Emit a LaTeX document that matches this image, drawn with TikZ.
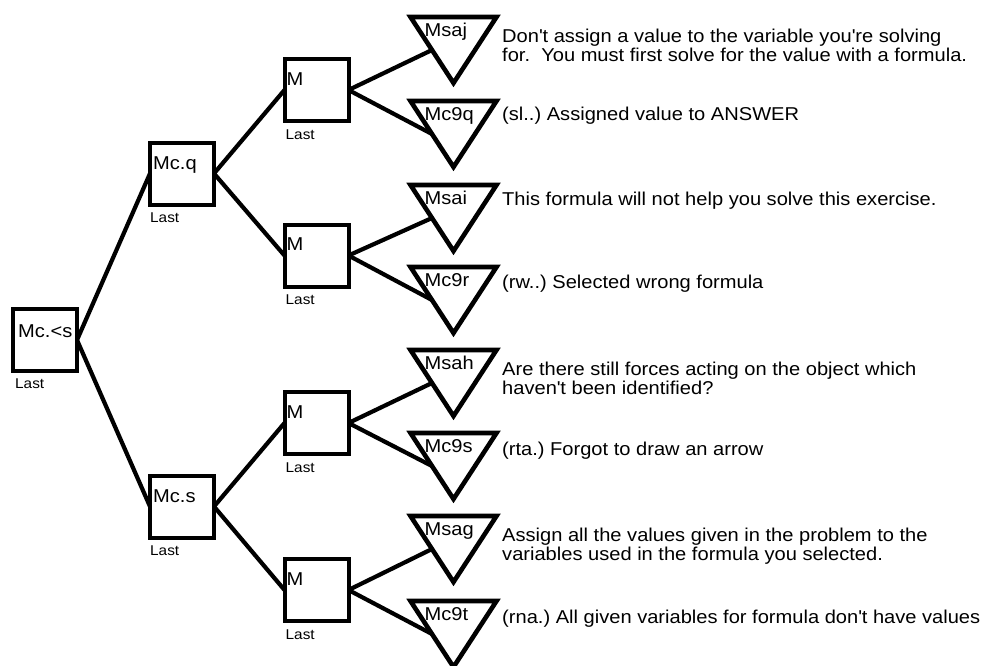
\documentclass[tikz,border=0pt]{standalone}
\usepackage{fontspec}
\setmainfont{Liberation Sans}[FakeStretch=1.08]
\usetikzlibrary{calc}
\frenchspacing
\newcommand{\msgfont}{\fontsize{18.6}{19}\selectfont}
\newcommand{\lastfont}{\fontsize{14.2}{15}\selectfont}
\newcommand{\ap}{\textquotesingle}
\newcommand{\twolines}[2]{\begin{tabular}[t]{@{}l@{}}#1\\#2\end{tabular}}
\begin{document}
\begin{tikzpicture}[x=1pt,y=-1pt,
  box/.style={draw=black, line width=4pt, minimum width=64pt, minimum height=62pt, inner sep=0pt, outer sep=0pt},
  tribox/.style={minimum width=86pt, minimum height=66pt, inner sep=0pt, outer sep=0pt},
  triline/.style={draw=black, line width=4.6pt, line join=miter},
  conn/.style={draw=black, line width=4.2pt},
  boxlbl/.style={anchor=base west, inner sep=0pt, font=\msgfont},
  lastlbl/.style={anchor=base west, inner sep=0pt, font=\lastfont},
  msg/.style={anchor=base west, inner sep=0pt, font=\msgfont},
]
\useasboundingbox (0,0) rectangle (995,665);

% boxes
\node[box] (root) at (45,340) {};
\node[box] (mcq) at (182,173.5) {};
\node[box] (mcs) at (182,506.5) {};
\node[box] (m1) at (316.5,90) {};
\node[box] (m2) at (316.5,255.5) {};
\node[box] (m3) at (316.5,423) {};
\node[box] (m4) at (316.5,590) {};

\node[boxlbl] (rootlbl) at ($(root.north west)+(5,28)$) {Mc.<s};
\node[boxlbl] (mcqlbl) at ($(mcq.north west)+(3,27)$) {Mc.q};
\node[boxlbl] (mcslbl) at ($(mcs.north west)+(3,27)$) {Mc.s};
\node[boxlbl] (m1lbl) at ($(m1.north west)+(2,26)$) {M};
\node[boxlbl] (m2lbl) at ($(m2.north west)+(2,26)$) {M};
\node[boxlbl] (m3lbl) at ($(m3.north west)+(2,26)$) {M};
\node[boxlbl] (m4lbl) at ($(m4.north west)+(2,26)$) {M};

\node[lastlbl] (rootlast) at ($(root.south west)+(2,17)$) {Last};
\node[lastlbl] (mcqlast) at ($(mcq.south west)+(0,18)$) {Last};
\node[lastlbl] (mcslast) at ($(mcs.south west)+(0,18)$) {Last};
\node[lastlbl] (m1last) at ($(m1.south west)+(1,18)$) {Last};
\node[lastlbl] (m2last) at ($(m2.south west)+(1,18)$) {Last};
\node[lastlbl] (m3last) at ($(m3.south west)+(1,18)$) {Last};
\node[lastlbl] (m4last) at ($(m4.south west)+(1,18)$) {Last};

% triangles
\foreach \n/\ty/\lab in {t1/15/Msaj, t2/99/Mc9q, t3/183/Msai, t4/265/Mc9r, t5/348/Msah, t6/431/Mc9s, t7/514/Msag, t8/599/Mc9t}{
  \node[tribox] (\n) at (453.5,\ty+35) {};
  \draw[triline] (\n.north west) -- (\n.north east) -- (\n.south) -- cycle;
  \coordinate (\n w) at ($(\n.north west)!0.5!(\n.south)$);
  \node[boxlbl] (\n lbl) at ($(\n.north west)+(14,19)$) {\lab};
}

% connectors
\draw[conn] (root.east) -- (mcq.west);
\draw[conn] (root.east) -- (mcs.west);
\draw[conn] (mcq.east) -- (m1.west);
\draw[conn] (mcq.east) -- (m2.west);
\draw[conn] (mcs.east) -- (m3.west);
\draw[conn] (mcs.east) -- (m4.west);
\draw[conn] (m1.east) -- (t1w);
\draw[conn] (m1.east) -- (t2w);
\draw[conn] (m2.east) -- (t3w);
\draw[conn] (m2.east) -- (t4w);
\draw[conn] (m3.east) -- (t5w);
\draw[conn] (m3.east) -- (t6w);
\draw[conn] (m4.east) -- (t7w);
\draw[conn] (m4.east) -- (t8w);

% messages
\node[msg] (msg1) at (502,15+27) {\twolines{Don\ap t assign a value to the variable you\ap re solving}{for.\ \ You must first solve for the value with a formula.}};
\node[msg] (msg2) at (502,99+21) {(sl..) Assigned value to ANSWER};
\node[msg] (msg3) at (502,183+22) {This formula will not help you solve this exercise.};
\node[msg] (msg4) at (502,265+23) {(rw..) Selected wrong formula};
\node[msg] (msg5) at (502,348+27) {\twolines{Are there still forces acting on the object which}{haven\ap t been identified?}};
\node[msg] (msg6) at (502,431+24) {(rta.) Forgot to draw an arrow};
\node[msg] (msg7) at (502,514+27) {\twolines{Assign all the values given in the problem to the}{variables used in the formula you selected.}};
\node[msg] (msg8) at (502,599+24) {(rna.) All given variables for formula don\ap t have values};
\end{tikzpicture}
\end{document}
